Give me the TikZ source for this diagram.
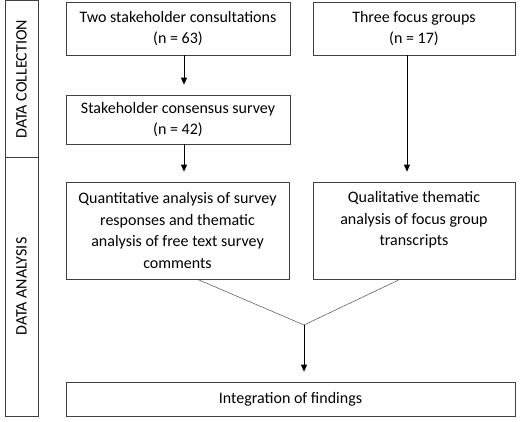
\documentclass[tikz,border=0pt]{standalone}
\usepackage{fontspec}
\setmainfont{Carlito}
\usetikzlibrary{arrows.meta}

\begin{document}
\begin{tikzpicture}[x=1pt, y=-1pt,
    box/.style={draw=black!75, line width=0.7pt, text=black, align=center,
      inner sep=0pt, font=\fontsize{16}{21.5}\selectfont},
    txt/.style={text=black, align=center, inner sep=0pt, font=\fontsize{16}{21.5}\selectfont},
    arrow/.style={-{Triangle[length=7pt, width=6pt]}, line width=0.8pt, shorten >=10pt}]
    \useasboundingbox (0,0) rectangle (520,422);

    \draw
    (21.5, 79) node[box, rotate=90, minimum width=157, minimum height=33](C){DATA COLLECTION}
    (21.5, 286.5) node[box, rotate=90, minimum width=259, minimum height=33](An){DATA ANALYSIS}
    (178, 28.5) node[box, minimum width=224, minimum height=53](S){Two stakeholder consultations\\(n = 63)}
    (414, 28.5) node[box, minimum width=202, minimum height=53](F){Three focus groups\\(n = 17)}
    (178, 119.5) node[box, minimum width=224, minimum height=49](V){Stakeholder consensus survey\\(n = 42)}
    (177.5, 230.5) node[box, minimum width=223, minimum height=97](Qn){Quantitative analysis of survey\\responses and thematic\\analysis of free text survey\\comments}
    (414, 230.5) node[box, minimum width=202, minimum height=97](Ql){}
    (414, 191.5) node[txt, anchor=north](QlT){Qualitative thematic\\analysis of focus group\\transcripts}
    (290.5, 399) node[box, minimum width=449, minimum height=34](I){Integration of findings};

    \coordinate (M) at (304, 325);

    \draw[arrow] ([xshift=6]S.south) -- ([xshift=6]S.south |- V.north);
    \draw[arrow] ([xshift=6]V.south) -- ([xshift=6]V.south |- Qn.north);
    \draw[arrow] ([xshift=-7]F.south) -- ([xshift=-7]F.south |- Ql.north);
    \draw[-, black!70, line width=0.5pt] ([xshift=20]Qn.south) -- (M);
    \draw[-, black!70, line width=0.5pt] ([xshift=-14]Ql.south) -- (M);
    \draw[arrow] (M) -- (M |- I.north);

  \end{tikzpicture}
\end{document}
